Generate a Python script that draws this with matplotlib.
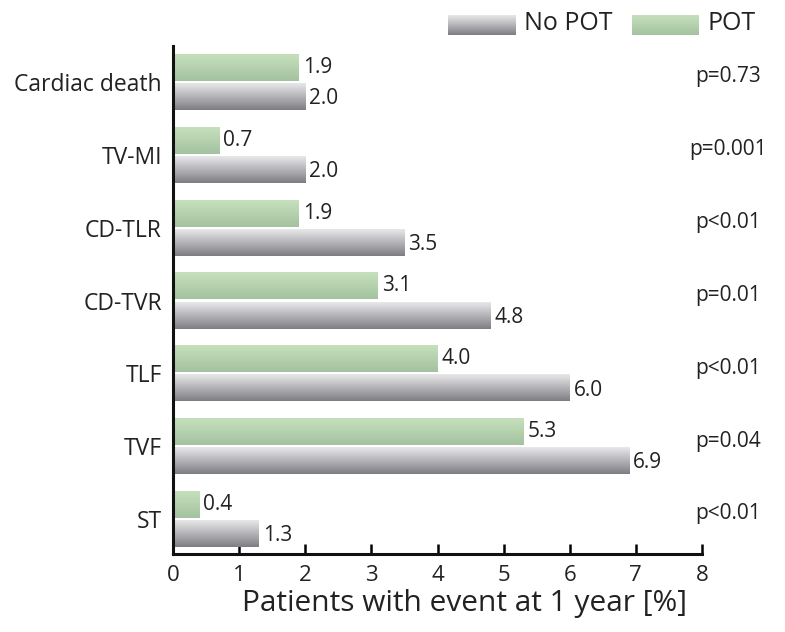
import numpy as np
import matplotlib
matplotlib.use('Agg')
import matplotlib.pyplot as plt
from matplotlib.colors import LinearSegmentedColormap

plt.rcParams['font.family'] = ['Open Sans', 'DejaVu Sans']

categories = ['Cardiac death', 'TV-MI', 'CD-TLR', 'CD-TVR', 'TLF', 'TVF', 'ST']
pot = [1.9, 0.7, 1.9, 3.1, 4.0, 5.3, 0.4]
no_pot = [2.0, 2.0, 3.5, 4.8, 6.0, 6.9, 1.3]
p_values = ['p=0.73', 'p=0.001', 'p<0.01', 'p=0.01', 'p<0.01', 'p=0.04', 'p<0.01']

grey_cmap = LinearSegmentedColormap.from_list('grey', ['#e8e8ea', '#b4b4b8', '#7d7d83'])
green_cmap = LinearSegmentedColormap.from_list('green', ['#c6e0bc', '#b5d1ae', '#a3c2a0'])
grad = np.linspace(0, 1, 64).reshape(-1, 1)

fig = plt.figure(figsize=(7.85, 6.32), dpi=100)
ax = fig.add_axes([173 / 785, 1 - 554 / 632, 529 / 785, 508 / 632])

h = 0.37
off = 0.2


def gradient_bar(ax, y, w, cmap):
    # light on top, dark at the bottom
    ax.imshow(grad, cmap=cmap, aspect='auto', extent=(0, w, y + h / 2, y - h / 2),
              interpolation='bilinear', zorder=2)


for i, cat in enumerate(categories):
    yg = i - off
    yn = i + off
    gradient_bar(ax, yg, pot[i], green_cmap)
    gradient_bar(ax, yn, no_pot[i], grey_cmap)
    ax.text(pot[i] + 0.06, yg, f'{pot[i]:.1f}', va='center', ha='left', fontsize=15, color='#222222')
    ax.text(no_pot[i] + 0.06, yn + 0.03, f'{no_pot[i]:.1f}', va='center', ha='left', fontsize=15, color='#222222')
    ax.text(1.05, i - 0.07, p_values[i], transform=ax.get_yaxis_transform(), va='center', ha='center',
            fontsize=15, color='#222222')

ax.set_xlim(0, 8)
ax.set_ylim(6.48, -0.494)
ax.set_yticks(range(len(categories)))
ax.set_yticklabels(categories, fontsize=16.5, color='#222222')
ax.tick_params(axis='y', length=0, pad=8)
ax.set_xticks(range(0, 9))
ax.tick_params(axis='x', labelsize=16, labelcolor='#222222', length=7, width=1.8, direction='in', pad=8)
for s in ['top', 'right']:
    ax.spines[s].set_visible(False)
for s in ['left', 'bottom']:
    ax.spines[s].set_linewidth(2.2)
    ax.spines[s].set_color('#111111')
ax.set_xlabel('Patients with event at 1 year [%]', fontsize=21.5, color='#222222', labelpad=2)
ax.xaxis.label.set_x((464 - 173) / 529)

# legend
lax = fig.add_axes([0, 0, 1, 1])
lax.axis('off')
lax.imshow(grad, cmap=grey_cmap, aspect='auto', extent=(448, 516, 35, 15), interpolation='bilinear')
lax.imshow(grad, cmap=green_cmap, aspect='auto', extent=(632, 699, 35, 15), interpolation='bilinear')
lax.set_xlim(0, 785)
lax.set_ylim(632, 0)
lax.text(524, 24, 'No POT', va='center', ha='left', fontsize=18, color='#222222')
lax.text(707, 24, 'POT', va='center', ha='left', fontsize=18, color='#222222')

fig.savefig('out.png', dpi=100)
